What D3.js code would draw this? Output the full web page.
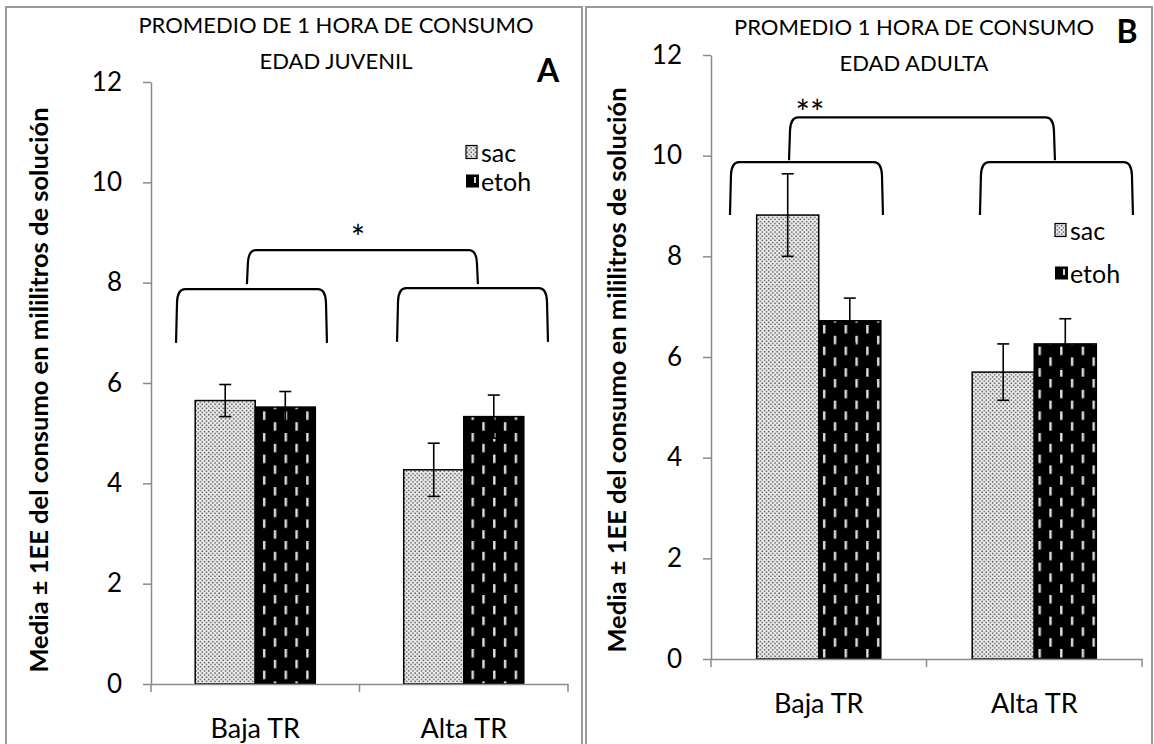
<!DOCTYPE html>
<html><head><meta charset="utf-8">
<script src="https://cdn.jsdelivr.net/npm/d3@7"></script>
<style>
html,body{margin:0;padding:0;background:#fff;}
svg{display:block;}
text{font-family:Lato,"Open Sans",sans-serif;fill:#000;}
</style></head><body>
<svg id="chart" width="1154" height="744"></svg>
<script>
// ---------- data ----------
const categories = ["Baja TR", "Alta TR"];
const seriesNames = ["sac", "etoh"];
const yTicks = [0, 2, 4, 6, 8, 10, 12];

const juvenilSac = [5.65, 4.27];
const juvenilSacErr = [0.32, 0.53];
const juvenilEtoh = [5.52, 5.33];
const juvenilEtohErr = [0.31, 0.43];

const adultaSac = [8.82, 5.70];
const adultaSacErr = [0.82, 0.56];
const adultaEtoh = [6.72, 6.26];
const adultaEtohErr = [0.45, 0.50];

const juvenilTitle = ["PROMEDIO DE 1 HORA DE CONSUMO", "EDAD JUVENIL"];
const adultaTitle = ["PROMEDIO 1 HORA DE CONSUMO", "EDAD ADULTA"];
const yLabel = "Media \u00b1 1EE del consumo en mililitros de soluci\u00f3n";
const juvenilSig = "*";
const adultaSig = "**";

// ---------- layout ----------
const panels = [
  {
    letter: "A", title: juvenilTitle, sig: juvenilSig,
    sac: juvenilSac, sacErr: juvenilSacErr, etoh: juvenilEtoh, etohErr: juvenilEtohErr,
    border: [6, 7, 582, 760], xr: [151, 568], yr: [684, 82],
    titleX: 336, titleY: [33, 69], letterPos: [548, 82],
    yLabelPos: [38, 390], legendPos: [466, 152, 181],
    brackets: [
      {f: [0.06, 0.422], top: 7.87, bot: 6.80},
      {f: [0.59, 0.952], top: 7.89, bot: 6.82},
      {f: [0.23, 0.784], top: 8.65, bot: 7.97}
    ],
    sigPos: [358, 250]
  },
  {
    letter: "B", title: adultaTitle, sig: adultaSig,
    sac: adultaSac, sacErr: adultaSacErr, etoh: adultaEtoh, etohErr: adultaEtohErr,
    border: [586, 7, 1152, 760], xr: [711, 1142], yr: [659, 55],
    titleX: 914, titleY: [35, 71], letterPos: [1127, 43],
    yLabelPos: [616, 370], legendPos: [1055, 230, 273],
    brackets: [
      {f: [0.044, 0.399], top: 9.87, bot: 8.82},
      {f: [0.624, 0.979], top: 9.87, bot: 8.82},
      {f: [0.181, 0.798], top: 10.76, bot: 9.91}
    ],
    sigPos: [810, 125]
  }
];

const svg = d3.select("#chart");
const defs = svg.append("defs");

// sac pattern: dotted
const pSac = defs.append("pattern").attr("id", "pSac")
  .attr("patternUnits", "userSpaceOnUse").attr("width", 4.2).attr("height", 4.2);
pSac.append("rect").attr("width", 4.2).attr("height", 4.2).attr("fill", "#efefef");
pSac.append("circle").attr("cx", 1).attr("cy", 1).attr("r", 0.85).attr("fill", "#505050");
pSac.append("circle").attr("cx", 3.1).attr("cy", 3.1).attr("r", 0.85).attr("fill", "#505050");

// etoh pattern: black with short vertical dashes
const pE = defs.append("pattern").attr("id", "pEtoh")
  .attr("patternUnits", "userSpaceOnUse").attr("width", 21.6).attr("height", 21.6);
pE.append("rect").attr("width", 21.6).attr("height", 21.6).attr("fill", "#000");
pE.append("rect").attr("x", 4).attr("y", 1).attr("width", 2.4).attr("height", 8.5).attr("fill", "#e0e0e0");
pE.append("rect").attr("x", 14.8).attr("y", 11.8).attr("width", 2.4).attr("height", 8.5).attr("fill", "#e0e0e0");

const axisColor = "#8a8a8a";

function bracketPath(x0, x1, yt, yb) {
  const r = 9;
  return `M${x0},${yb} L${x0 + 1},${yt + r + 4} Q${x0 + 1.6},${yt} ${x0 + r},${yt} ` +
         `L${x1 - r},${yt} Q${x1 - 1.6},${yt} ${x1 - 1},${yt + r + 4} L${x1},${yb}`;
}

panels.forEach(p => {
  const g = svg.append("g");
  // panel border
  const [bx0, by0, bx1, by1] = p.border;
  g.append("rect").attr("x", bx0).attr("y", by0).attr("width", bx1 - bx0).attr("height", by1 - by0)
    .attr("fill", "none").attr("stroke", "#9a9a9a").attr("stroke-width", 2);

  const y = d3.scaleLinear().domain([0, 12]).range(p.yr);
  const x0 = d3.scaleBand().domain(categories).range(p.xr);
  const bw = x0.bandwidth();
  const x1 = d3.scaleBand().domain(seriesNames).range([bw * 0.212, bw * 0.788]);

  const rows = categories.map((c, i) => ({
    cat: c,
    vals: [
      {s: "sac", v: p.sac[i], e: p.sacErr[i]},
      {s: "etoh", v: p.etoh[i], e: p.etohErr[i]}
    ]
  }));

  // bars
  const cg = g.selectAll(".cat").data(rows).enter().append("g")
    .attr("transform", d => `translate(${x0(d.cat)},0)`);
  cg.selectAll("rect").data(d => d.vals).enter().append("rect")
    .attr("x", d => x1(d.s)).attr("width", x1.bandwidth())
    .attr("y", d => y(d.v)).attr("height", d => y(0) - y(d.v))
    .attr("fill", d => d.s === "sac" ? "url(#pSac)" : "url(#pEtoh)")
    .attr("stroke", "#000").attr("stroke-width", 1.5);

  // error bars
  const eg = cg.selectAll(".err").data(d => d.vals).enter().append("g");
  eg.append("line")
    .attr("x1", d => x1(d.s) + x1.bandwidth() / 2).attr("x2", d => x1(d.s) + x1.bandwidth() / 2)
    .attr("y1", d => y(d.v - d.e)).attr("y2", d => y(d.v + d.e))
    .attr("stroke", "#000").attr("stroke-width", 1.6);
  [1, -1].forEach(sgn => {
    eg.append("line")
      .attr("x1", d => x1(d.s) + x1.bandwidth() / 2 - 6).attr("x2", d => x1(d.s) + x1.bandwidth() / 2 + 6)
      .attr("y1", d => y(d.v + sgn * d.e)).attr("y2", d => y(d.v + sgn * d.e))
      .attr("stroke", "#000").attr("stroke-width", 1.6);
  });

  // y axis
  const ya = g.append("g").attr("transform", `translate(${p.xr[0]},0)`)
    .call(d3.axisLeft(y).tickValues(yTicks).tickSize(8).tickSizeOuter(0).tickPadding(21).tickFormat(d3.format("d")));
  ya.select(".domain").attr("stroke", axisColor).attr("stroke-width", 1.5);
  ya.selectAll(".tick line").attr("stroke", axisColor).attr("stroke-width", 1.5);
  ya.selectAll(".tick text").attr("font-family", "Lato").attr("font-size", 26).attr("fill", "#000");

  // x axis
  const xa = g.append("g").attr("transform", `translate(0,${y(0)})`)
    .call(d3.axisBottom(x0).tickSize(0).tickPadding(35));
  xa.select(".domain").attr("stroke", axisColor).attr("stroke-width", 1.5);
  xa.selectAll(".tick text").attr("font-family", "Lato").attr("font-size", 27).attr("fill", "#000");
  const bounds = categories.map(c => x0(c)).concat([x0(categories[categories.length - 1]) + bw]);
  xa.selectAll(".bt").data(bounds).enter().append("line")
    .attr("x1", d => d).attr("x2", d => d).attr("y1", 0).attr("y2", 8)
    .attr("stroke", axisColor).attr("stroke-width", 1.5);

  // y label
  g.append("text")
    .attr("transform", `translate(${p.yLabelPos[0]},${p.yLabelPos[1]}) rotate(-90)`)
    .attr("text-anchor", "middle").attr("dominant-baseline", "central")
    .attr("font-weight", "bold").attr("font-size", 25.5).text(yLabel);

  // titles
  p.title.forEach((t, i) => {
    g.append("text").attr("x", p.titleX).attr("y", p.titleY[i])
      .attr("text-anchor", "middle").attr("font-size", 22).text(t);
  });
  g.append("text").attr("x", p.letterPos[0]).attr("y", p.letterPos[1])
    .attr("text-anchor", "middle").attr("font-weight", "bold").attr("font-size", 32).text(p.letter);

  // legend
  const [lx, ly1, ly2] = p.legendPos;
  g.append("rect").attr("x", lx).attr("y", ly1 - 6.5).attr("width", 11).attr("height", 13)
    .attr("fill", "url(#pSac)").attr("stroke", "#000").attr("stroke-width", 1.2);
  g.append("text").attr("x", lx + 15).attr("y", ly1).attr("dominant-baseline", "central")
    .attr("font-size", 25).text(seriesNames[0]);
  g.append("rect").attr("x", lx).attr("y", ly2 - 6.5).attr("width", 13).attr("height", 13)
    .attr("fill", "#000");
  g.append("rect").attr("x", lx + 8).attr("y", ly2 - 4).attr("width", 2).attr("height", 6)
    .attr("fill", "#d9d9d9");
  g.append("text").attr("x", lx + 15).attr("y", ly2).attr("dominant-baseline", "central")
    .attr("font-size", 25).text(seriesNames[1]);

  // significance brackets
  const xs = d3.scaleLinear().domain([0, 1]).range(p.xr);
  p.brackets.forEach(b => {
    g.append("path").attr("d", bracketPath(xs(b.f[0]), xs(b.f[1]), y(b.top), y(b.bot)))
      .attr("fill", "none").attr("stroke", "#000").attr("stroke-width", 2.2);
  });
  g.append("text").attr("x", p.sigPos[0]).attr("y", p.sigPos[1])
    .attr("text-anchor", "middle").attr("font-size", 34).text(p.sig);
});
</script>
</body></html>
